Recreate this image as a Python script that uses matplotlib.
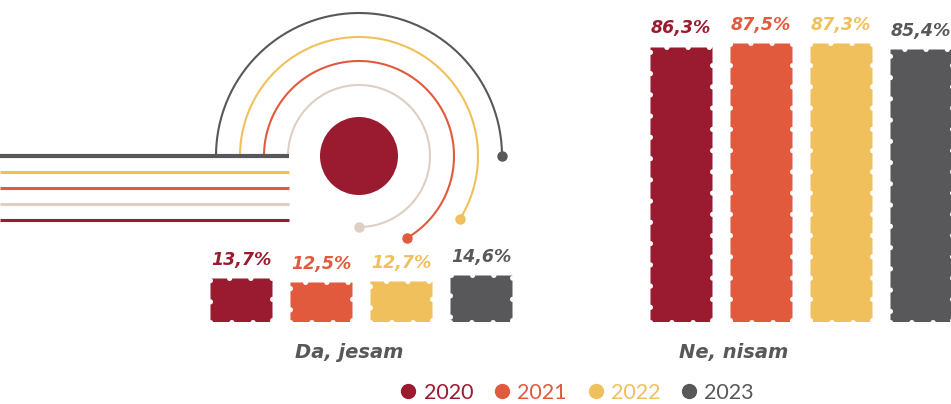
import numpy as np
import matplotlib.pyplot as plt
from matplotlib.lines import Line2D
from matplotlib.patches import Circle

# data
years = ["2020", "2021", "2022", "2023"]
groups = ["Da, jesam", "Ne, nisam"]
da_jesam = [13.7, 12.5, 12.7, 14.6]
ne_nisam = [86.3, 87.5, 87.3, 85.4]
colors = ["#9A1B30", "#E15A3D", "#F0C05C", "#58585A"]
beige = "#DDCFC3"

plt.rcParams["font.family"] = ["Lato", "DejaVu Sans"]

fig = plt.figure(figsize=(9.51, 4.04), dpi=100)

# decoration layer in pixel units (y down)
deco = fig.add_axes([0, 0, 1, 1], zorder=0)
deco.set_xlim(0, 951)
deco.set_ylim(404, 0)
deco.axis("off")

cx, cy = 359, 156
deco.add_patch(Circle((cx, cy), 39, color=colors[0], lw=0))
# arcs: radius, end angle (deg), colour
arcs = [(143, 0, colors[3]), (119, -32, colors[2]), (95, -60, colors[1]), (71, -90, beige)]
for r, end, c in arcs:
    t = np.radians(np.linspace(180, end, 200))
    deco.plot(cx + r * np.cos(t), cy - r * np.sin(t), color=c, lw=1.5,
              solid_capstyle="butt")
    deco.plot(cx + r * np.cos(t[-1]), cy - r * np.sin(t[-1]), "o", color=c, ms=6.5)

# horizontal stripes on the left
stripes = [(156, colors[3], 3), (172, colors[2], 2.2), (188, colors[1], 2.2),
           (204, beige, 2.2), (220, colors[0], 2.2)]
for y, c, w in stripes:
    deco.plot([0, 289], [y, y], color=c, lw=w, solid_capstyle="butt")

# bar layer
ax = fig.add_axes([0, 0.203, 1, 0.79], zorder=1)
ax.patch.set_alpha(0)
ax.set_xlim(0, 951)
ax.set_ylim(0, 100)
ax.axis("off")

centers = [361, 800.5]
pitch = 80
width = 62
for g, vals in enumerate([da_jesam, ne_nisam]):
    for i, v in enumerate(vals):
        x = centers[g] + (i - 1.5) * pitch
        bars = ax.bar(x, v, width=width, color=colors[i], edgecolor="white",
                      linewidth=3.6, linestyle=(0, (0.05, 4.2)))
        for b in bars:
            b.set_capstyle("round")
            b.set_joinstyle("round")
        lab = f"{v:.1f}".replace(".", ",") + "%"
        ax.annotate(lab, (x, v), xytext=(0, 13), textcoords="offset points",
                    ha="center", va="center", fontsize=12.5, fontweight="bold",
                    fontstyle="italic", color=colors[i], family="DejaVu Sans")

# group labels
label_x = [349, 734]
for g, name in enumerate(groups):
    ax.text(label_x[g], -9.7, name, ha="center", va="center", fontsize=14,
            fontweight="heavy", fontstyle="italic", color=colors[3],
            family="DejaVu Sans")

# legend
handles = [Line2D([], [], marker="o", ls="", color=c, ms=10) for c in colors]
leg = fig.legend(handles, years, loc="center", bbox_to_anchor=(0.605, 0.028),
                 ncol=4, frameon=False, fontsize=15.5, handletextpad=0.15,
                 columnspacing=0.8, handlelength=1.1)
for t, c in zip(leg.get_texts(), colors):
    t.set_color(c)

fig.savefig("out.png", dpi=100)
